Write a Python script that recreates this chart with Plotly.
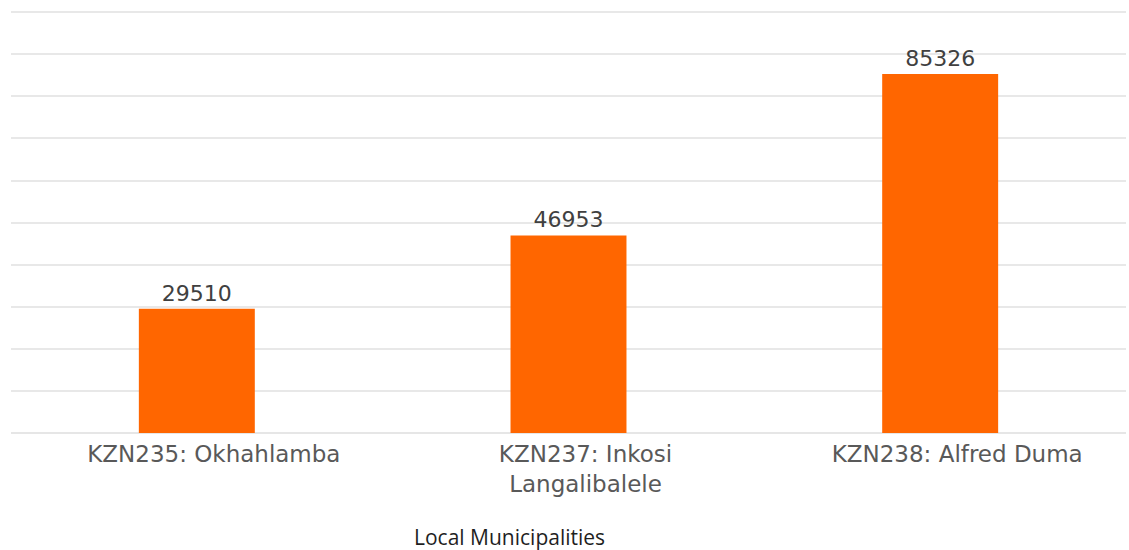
import plotly.graph_objects as go

categories = ["KZN235: Okhahlamba", "KZN237: Inkosi<br>Langalibalele", "KZN238: Alfred Duma"]
values = [29510, 46953, 85326]
x_title = "Local Municipalities"

fig = go.Figure(
    go.Bar(
        x=categories,
        y=values,
        marker=dict(color="#FF6600", line=dict(width=0)),
        text=[str(v) for v in values],
        textposition="outside",
        textfont=dict(family="DejaVu Sans", size=22, color="#404040"),
        cliponaxis=False,
    )
)

fig.update_layout(
    width=1129,
    height=550,
    margin=dict(l=11, r=3, t=8, b=117),
    paper_bgcolor="white",
    plot_bgcolor="white",
    bargap=0.688,
    showlegend=False,
    font=dict(family="DejaVu Sans", color="#595959"),
    annotations=[
        dict(
            text=x_title,
            xref="paper", yref="paper",
            x=(509.5 - 11) / (1129 - 14), y=-0.245,
            xanchor="center", yanchor="middle",
            showarrow=False,
            font=dict(family="Open Sans", size=21, color="#1f1f1f"),
        )
    ],
)

fig.update_xaxes(
    showgrid=False,
    showline=False,
    ticks="",
    tickfont=dict(family="DejaVu Sans", size=23, color="#595959"),
    ticklabelshift=17,
    ticklabelstandoff=5,
)
fig.update_yaxes(
    range=[0, 101000],
    dtick=10000,
    showgrid=True,
    gridcolor="#E8E8E8",
    gridwidth=1.5,
    zeroline=True,
    zerolinecolor="#E6E6E6",
    zerolinewidth=1.5,
    showticklabels=False,
    ticks="",
)

fig.write_html("out.html")
